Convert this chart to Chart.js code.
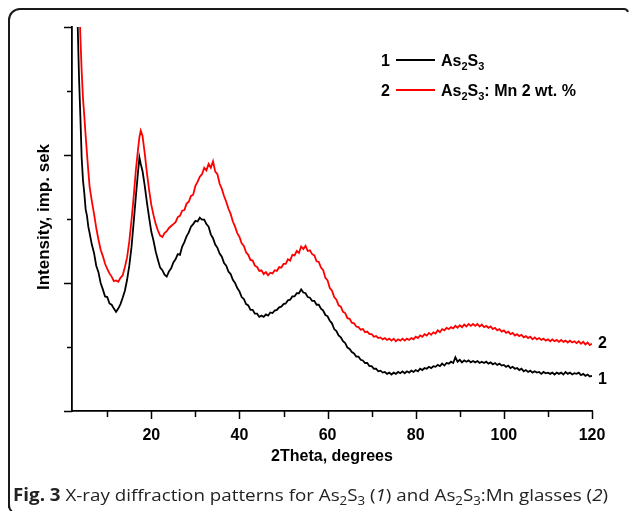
<!DOCTYPE html>
<html>
<head>
<meta charset="utf-8">
<script src="https://cdn.jsdelivr.net/npm/chart.js@4.4.1/dist/chart.umd.min.js"></script>
<style>
  html, body { margin: 0; padding: 0; background: #fff; }
  #xrd { display: block; }
</style>
</head>
<body>
<canvas id="xrd" width="629" height="511"></canvas>
<script>
// 2Theta grid (degrees), shared by both scans
const theta = [
  3.0, 3.3, 3.6, 3.9, 4.2, 4.5, 4.8, 5.1, 5.4, 5.7,
  6.0, 6.5, 7.0, 7.5, 8.0, 8.5, 9.0, 9.5, 10.0, 10.5, 11.0, 11.5, 12.0, 12.5, 13.0, 13.5, 14.0, 14.5, 15.0, 15.5, 16.0, 16.5, 17.0,
  17.3, 17.6,
  18.0, 18.5, 19.0, 19.5, 20.0, 20.5, 21.0, 21.5, 22.0, 22.5,
  23.0, 23.5, 24.0, 24.5, 25.0, 25.5, 26.0, 26.5, 27.0, 27.5,
  28.0, 28.5, 29.0, 29.5, 30.0, 30.5, 31.0, 31.5, 32.0, 32.5,
  33.0, 33.5, 34.0, 34.5, 35.0, 35.5, 36.0, 36.5, 37.0, 37.5,
  38.0, 38.5, 39.0, 39.5, 40.0, 40.5, 41.0, 41.5, 42.0, 42.5,
  43.0, 43.5, 44.0, 44.5, 45.0, 45.5, 46.0, 46.5, 47.0, 47.5,
  48.0, 48.5, 49.0, 49.5, 50.0, 50.5, 51.0, 51.5, 52.0, 52.5,
  53.0, 53.5, 54.0, 54.5, 55.0, 55.5, 56.0, 56.5, 57.0, 57.5,
  58.0, 58.5, 59.0, 59.5, 60.0, 60.5, 61.0, 61.5, 62.0, 62.5,
  63.0, 63.5, 64.0, 64.5, 65.0, 65.5, 66.0, 66.5, 67.0, 67.5,
  68.0, 68.5, 69.0, 69.5, 70.0, 70.5, 71.0, 71.5, 72.0, 72.5,
  73.0, 73.5, 74.0, 74.5, 75.0, 75.5, 76.0, 76.5, 77.0, 77.5,
  78.0, 78.5, 79.0, 79.5, 80.0, 80.5, 81.0, 81.5, 82.0, 82.5,
  83.0, 83.5, 84.0, 84.5, 85.0, 85.5, 86.0, 86.5, 87.0, 87.5,
  88.0, 88.5, 89.0, 89.5, 90.0, 90.5, 91.0, 91.5, 92.0, 92.5,
  93.0, 93.5, 94.0, 94.5, 95.0, 95.5, 96.0, 96.5, 97.0, 97.5,
  98.0, 98.5, 99.0, 99.5, 100.0, 100.5, 101.0, 101.5, 102.0, 102.5,
  103.0, 103.5, 104.0, 104.5, 105.0, 105.5, 106.0, 106.5, 107.0, 107.5,
  108.0, 108.5, 109.0, 109.5, 110.0, 110.5, 111.0, 111.5, 112.0, 112.5,
  113.0, 113.5, 114.0, 114.5, 115.0, 115.5, 116.0, 116.5, 117.0, 117.5,
  118.0, 118.5, 119.0, 119.5, 120.0
];

// curve 1: As2S3 (arb. units)
const intAs2S3 = [
  6.6, 6.0, 5.2, 4.6, 3.95, 3.6, 3.4, 3.15, 3.05, 2.88,
  2.78, 2.6, 2.47, 2.27, 2.17, 2.0, 1.9, 1.79, 1.78, 1.68, 1.66, 1.6, 1.55, 1.6, 1.67, 1.77, 1.88, 2.05, 2.27, 2.56, 2.95, 3.36, 3.75,
  3.96, 3.86,
  3.75, 3.52, 3.26, 3.02, 2.8, 2.66, 2.49, 2.36, 2.24, 2.2,
  2.13, 2.1, 2.18, 2.23, 2.32, 2.37, 2.45, 2.44, 2.57, 2.64,
  2.73, 2.79, 2.88, 2.92, 2.97, 2.96, 3.02, 2.99, 2.99, 2.92,
  2.88, 2.76, 2.7, 2.6, 2.55, 2.46, 2.41, 2.31, 2.27, 2.18,
  2.14, 2.05, 2.0, 1.92, 1.87, 1.78, 1.75, 1.67, 1.65, 1.58,
  1.58, 1.52, 1.52, 1.47, 1.49, 1.47, 1.51, 1.49, 1.54, 1.53,
  1.57, 1.58, 1.62, 1.63, 1.67, 1.68, 1.73, 1.74, 1.79, 1.79,
  1.84, 1.84, 1.9, 1.85, 1.84, 1.78, 1.77, 1.72, 1.72, 1.66,
  1.66, 1.6, 1.57, 1.5, 1.48, 1.41, 1.37, 1.28, 1.25, 1.18,
  1.15, 1.09, 1.06, 0.99, 0.97, 0.92, 0.9, 0.85, 0.85, 0.8,
  0.79, 0.75, 0.75, 0.7, 0.7, 0.66, 0.66, 0.62, 0.63, 0.6,
  0.61, 0.58, 0.6, 0.57, 0.6, 0.58, 0.61, 0.59, 0.62, 0.59,
  0.62, 0.6, 0.63, 0.61, 0.64, 0.62, 0.66, 0.64, 0.67, 0.66,
  0.69, 0.67, 0.7, 0.69, 0.72, 0.7, 0.74, 0.71, 0.75, 0.74,
  0.77, 0.75, 0.84, 0.77, 0.8, 0.76, 0.79, 0.77, 0.79, 0.76,
  0.78, 0.76, 0.78, 0.75, 0.77, 0.75, 0.77, 0.74, 0.76, 0.73,
  0.75, 0.72, 0.74, 0.71, 0.72, 0.69, 0.71, 0.67, 0.69, 0.66,
  0.67, 0.64, 0.66, 0.62, 0.64, 0.61, 0.63, 0.6, 0.62, 0.6,
  0.61, 0.58, 0.61, 0.59, 0.6, 0.58, 0.6, 0.57, 0.6, 0.58,
  0.6, 0.57, 0.61, 0.58, 0.6, 0.57, 0.59, 0.58, 0.6, 0.56,
  0.58, 0.55, 0.57, 0.54, 0.55
];

// curve 2: As2S3:Mn 2 wt.% (arb. units), off the top before 3.6 deg
const intAs2S3Mn = [
  null, null, 6.5, 5.85, 5.3, 4.88, 4.6, 4.3, 4.02, 3.75,
  3.5, 3.28, 3.08, 2.86, 2.68, 2.52, 2.42, 2.3, 2.22, 2.15, 2.1, 2.03, 2.04, 2.02, 2.08, 2.12, 2.25, 2.4, 2.65, 2.98, 3.35, 3.77, 4.1,
  4.28, 4.38,
  4.3, 4.03, 3.72, 3.45, 3.22, 3.06, 2.92, 2.82, 2.74, 2.72,
  2.78, 2.81, 2.86, 2.89, 2.92, 2.95, 3.03, 3.05, 3.13, 3.14,
  3.24, 3.27, 3.36, 3.38, 3.52, 3.58, 3.66, 3.7, 3.8, 3.76,
  3.86, 3.8, 3.9, 3.74, 3.7, 3.55, 3.47, 3.36, 3.27, 3.16,
  3.08, 2.96, 2.88, 2.78, 2.72, 2.62, 2.58, 2.48, 2.44, 2.36,
  2.35, 2.27, 2.25, 2.19, 2.2, 2.14, 2.17, 2.12, 2.16, 2.15,
  2.2, 2.19, 2.25, 2.24, 2.3, 2.3, 2.37, 2.35, 2.44, 2.43,
  2.5, 2.47, 2.57, 2.53, 2.58, 2.5, 2.51, 2.45, 2.43, 2.34,
  2.33, 2.24, 2.2, 2.08, 2.04, 1.92, 1.88, 1.78, 1.74, 1.65,
  1.63, 1.55, 1.53, 1.45, 1.44, 1.38, 1.37, 1.32, 1.31, 1.27,
  1.28, 1.23, 1.24, 1.2, 1.2, 1.16, 1.17, 1.14, 1.15, 1.12,
  1.14, 1.11, 1.13, 1.1, 1.13, 1.09, 1.12, 1.1, 1.13, 1.1,
  1.13, 1.11, 1.14, 1.12, 1.16, 1.14, 1.18, 1.16, 1.2, 1.18,
  1.22, 1.19, 1.23, 1.21, 1.26, 1.23, 1.28, 1.26, 1.3, 1.28,
  1.31, 1.29, 1.33, 1.3, 1.34, 1.31, 1.35, 1.32, 1.36, 1.33,
  1.36, 1.33, 1.36, 1.32, 1.35, 1.31, 1.33, 1.3, 1.32, 1.28,
  1.3, 1.26, 1.28, 1.24, 1.26, 1.22, 1.24, 1.2, 1.22, 1.18,
  1.2, 1.17, 1.19, 1.15, 1.17, 1.14, 1.16, 1.12, 1.15, 1.12,
  1.14, 1.11, 1.13, 1.1, 1.12, 1.09, 1.12, 1.09, 1.11, 1.08,
  1.11, 1.08, 1.1, 1.07, 1.1, 1.07, 1.09, 1.06, 1.09, 1.05,
  1.08, 1.04, 1.07, 1.03, 1.05
];

const xTicks = [10, 20, 30, 40, 50, 60, 70, 80, 90, 100, 110, 120];
const yTicks = [0, 1, 2, 3, 4, 5, 6];

const toPoints = (xs, ys) => xs.map((x, i) => ({ x: x, y: ys[i] }));

const SANS = '"Liberation Sans", Arial, sans-serif';
const BOLD = 'bold 16px ' + SANS;

// writes a chemical formula like As2S3 with lowered digits, returns end x
function drawFormula(ctx, parts, x, y, size, weight, family) {
  parts.forEach(p => {
    if (p.sub) {
      ctx.font = `${weight} ${Math.round(size * 0.68)}px ${family}`;
      ctx.fillText(p.t, x, y + size * 0.28);
    } else {
      ctx.font = `${weight} ${size}px ${family}`;
      ctx.fillText(p.t, x, y);
    }
    x += ctx.measureText(p.t).width;
  });
  return x;
}

const decorations = {
  id: 'decorations',
  afterDraw(chart) {
    const ctx = chart.ctx;
    const xs = chart.scales.x;
    const ys = chart.scales.y;
    const area = chart.chartArea;
    ctx.save();

    // tick marks, pointing outwards
    ctx.strokeStyle = '#000';
    ctx.lineWidth = 1.5;
    xTicks.forEach(v => {
      const px = Math.round(xs.getPixelForValue(v)) + 0.5;
      const len = v % 20 === 0 ? 8 : 6;
      ctx.beginPath();
      ctx.moveTo(px, area.bottom);
      ctx.lineTo(px, area.bottom + len);
      ctx.stroke();
    });
    yTicks.forEach(v => {
      const py = Math.round(ys.getPixelForValue(v)) + 0.5;
      const len = v % 2 === 0 ? 8 : 5;
      ctx.beginPath();
      ctx.moveTo(area.left, py);
      ctx.lineTo(area.left - len, py);
      ctx.stroke();
    });

    // axis titles
    ctx.fillStyle = '#000';
    ctx.font = BOLD;
    ctx.textAlign = 'center';
    ctx.textBaseline = 'middle';
    ctx.fillText('2Theta, degrees', (area.left + area.right) / 2, 457);
    ctx.save();
    ctx.translate(44, 217);
    ctx.rotate(-Math.PI / 2);
    ctx.font = 'bold 17px ' + SANS;
    ctx.fillText('Intensity, imp. sek', 0, 0);
    ctx.restore();

    // legend
    ctx.textAlign = 'left';
    ctx.textBaseline = 'alphabetic';
    const rows = [
      { n: '1', color: '#000', y: 66, tail: '' },
      { n: '2', color: '#ff0000', y: 96, tail: ': Mn 2 wt. %' }
    ];
    rows.forEach(r => {
      ctx.font = BOLD;
      ctx.fillStyle = '#000';
      ctx.fillText(r.n, 381, r.y);
      ctx.strokeStyle = r.color;
      ctx.lineWidth = 2;
      ctx.beginPath();
      ctx.moveTo(396, r.y - 6);
      ctx.lineTo(435, r.y - 6);
      ctx.stroke();
      const x = drawFormula(ctx, [{ t: 'As' }, { t: '2', sub: true }, { t: 'S' }, { t: '3', sub: true }], 441, r.y, 16, 'bold', SANS);
      if (r.tail) {
        ctx.font = BOLD;
        ctx.fillText(r.tail, x, r.y);
      }
    });

    // curve numbers at the right end
    ctx.font = BOLD;
    ctx.fillText('2', 598, 348);
    ctx.fillText('1', 598, 384);

    // figure caption
    const cap = '"Open Sans", "Noto Sans", sans-serif';
    const capSize = 17;
    const segs = [
      { t: 'Fig. 3', w: 'bold' }, { t: ' X-ray diffraction patterns for As' }, { t: '2', sub: true }, { t: 'S' },
      { t: '3', sub: true }, { t: ' (' }, { t: '1', it: true }, { t: ') and As' }, { t: '2', sub: true }, { t: 'S' },
      { t: '3', sub: true }, { t: ':Mn glasses (' }, { t: '2', it: true }, { t: ')' }
    ];
    const fontOf = s => `${s.it ? 'italic ' : ''}${s.w || 'normal'} ${s.sub ? Math.round(capSize * 0.7) : capSize}px ${cap}`;
    let total = 0;
    segs.forEach(s => { ctx.font = fontOf(s); total += ctx.measureText(s.t).width; });
    ctx.save();
    ctx.translate(13, 501);
    ctx.scale(595 / total, 1);
    ctx.fillStyle = '#222';
    let cx = 0;
    segs.forEach(s => {
      ctx.font = fontOf(s);
      ctx.fillText(s.t, cx, s.sub ? 4 : 0);
      cx += ctx.measureText(s.t).width;
    });
    ctx.restore();

    // rounded frame around the figure
    ctx.strokeStyle = '#1a1a1a';
    ctx.lineWidth = 2;
    ctx.beginPath();
    ctx.moveTo(9, 508);
    ctx.lineTo(9, 20);
    ctx.arcTo(9, 9, 20, 9, 11);
    ctx.lineTo(624, 9);
    ctx.quadraticCurveTo(627, 9, 628, 12);
    ctx.stroke();
    ctx.beginPath();
    ctx.moveTo(9, 504);
    ctx.quadraticCurveTo(9, 510, 12, 511);
    ctx.stroke();

    ctx.restore();
  }
};

new Chart(document.getElementById('xrd'), {
  type: 'line',
  data: {
    datasets: [
      {
        label: 'As2S3',
        data: toPoints(theta, intAs2S3),
        borderColor: '#000',
        borderWidth: 1.8,
        pointRadius: 0,
        tension: 0
      },
      {
        label: 'As2S3: Mn 2 wt. %',
        data: toPoints(theta, intAs2S3Mn),
        borderColor: '#ff0000',
        borderWidth: 1.8,
        pointRadius: 0,
        tension: 0
      }
    ]
  },
  options: {
    responsive: false,
    animation: false,
    devicePixelRatio: 1,
    layout: { padding: { left: 0, top: 27, right: 37, bottom: 0 } },
    plugins: {
      legend: { display: false },
      tooltip: { enabled: false }
    },
    scales: {
      x: {
        type: 'linear',
        min: 2,
        max: 120,
        grid: { display: false, drawTicks: false },
        border: { display: true, color: '#000', width: 1.8 },
        ticks: {
          stepSize: 10,
          includeBounds: false,
          autoSkip: false,
          maxRotation: 0,
          padding: 15,
          color: '#000',
          font: { family: SANS, size: 16, weight: 'bold' },
          callback: v => (v % 20 === 0 ? String(v) : '')
        },
        afterFit: s => { s.height = 100; }
      },
      y: {
        type: 'linear',
        min: 0,
        max: 6,
        grid: { display: false, drawTicks: false },
        border: { display: true, color: '#000', width: 1.8 },
        ticks: { display: false, stepSize: 1 },
        afterFit: s => { s.width = 72; }
      }
    }
  },
  plugins: [decorations]
});
</script>
</body>
</html>
